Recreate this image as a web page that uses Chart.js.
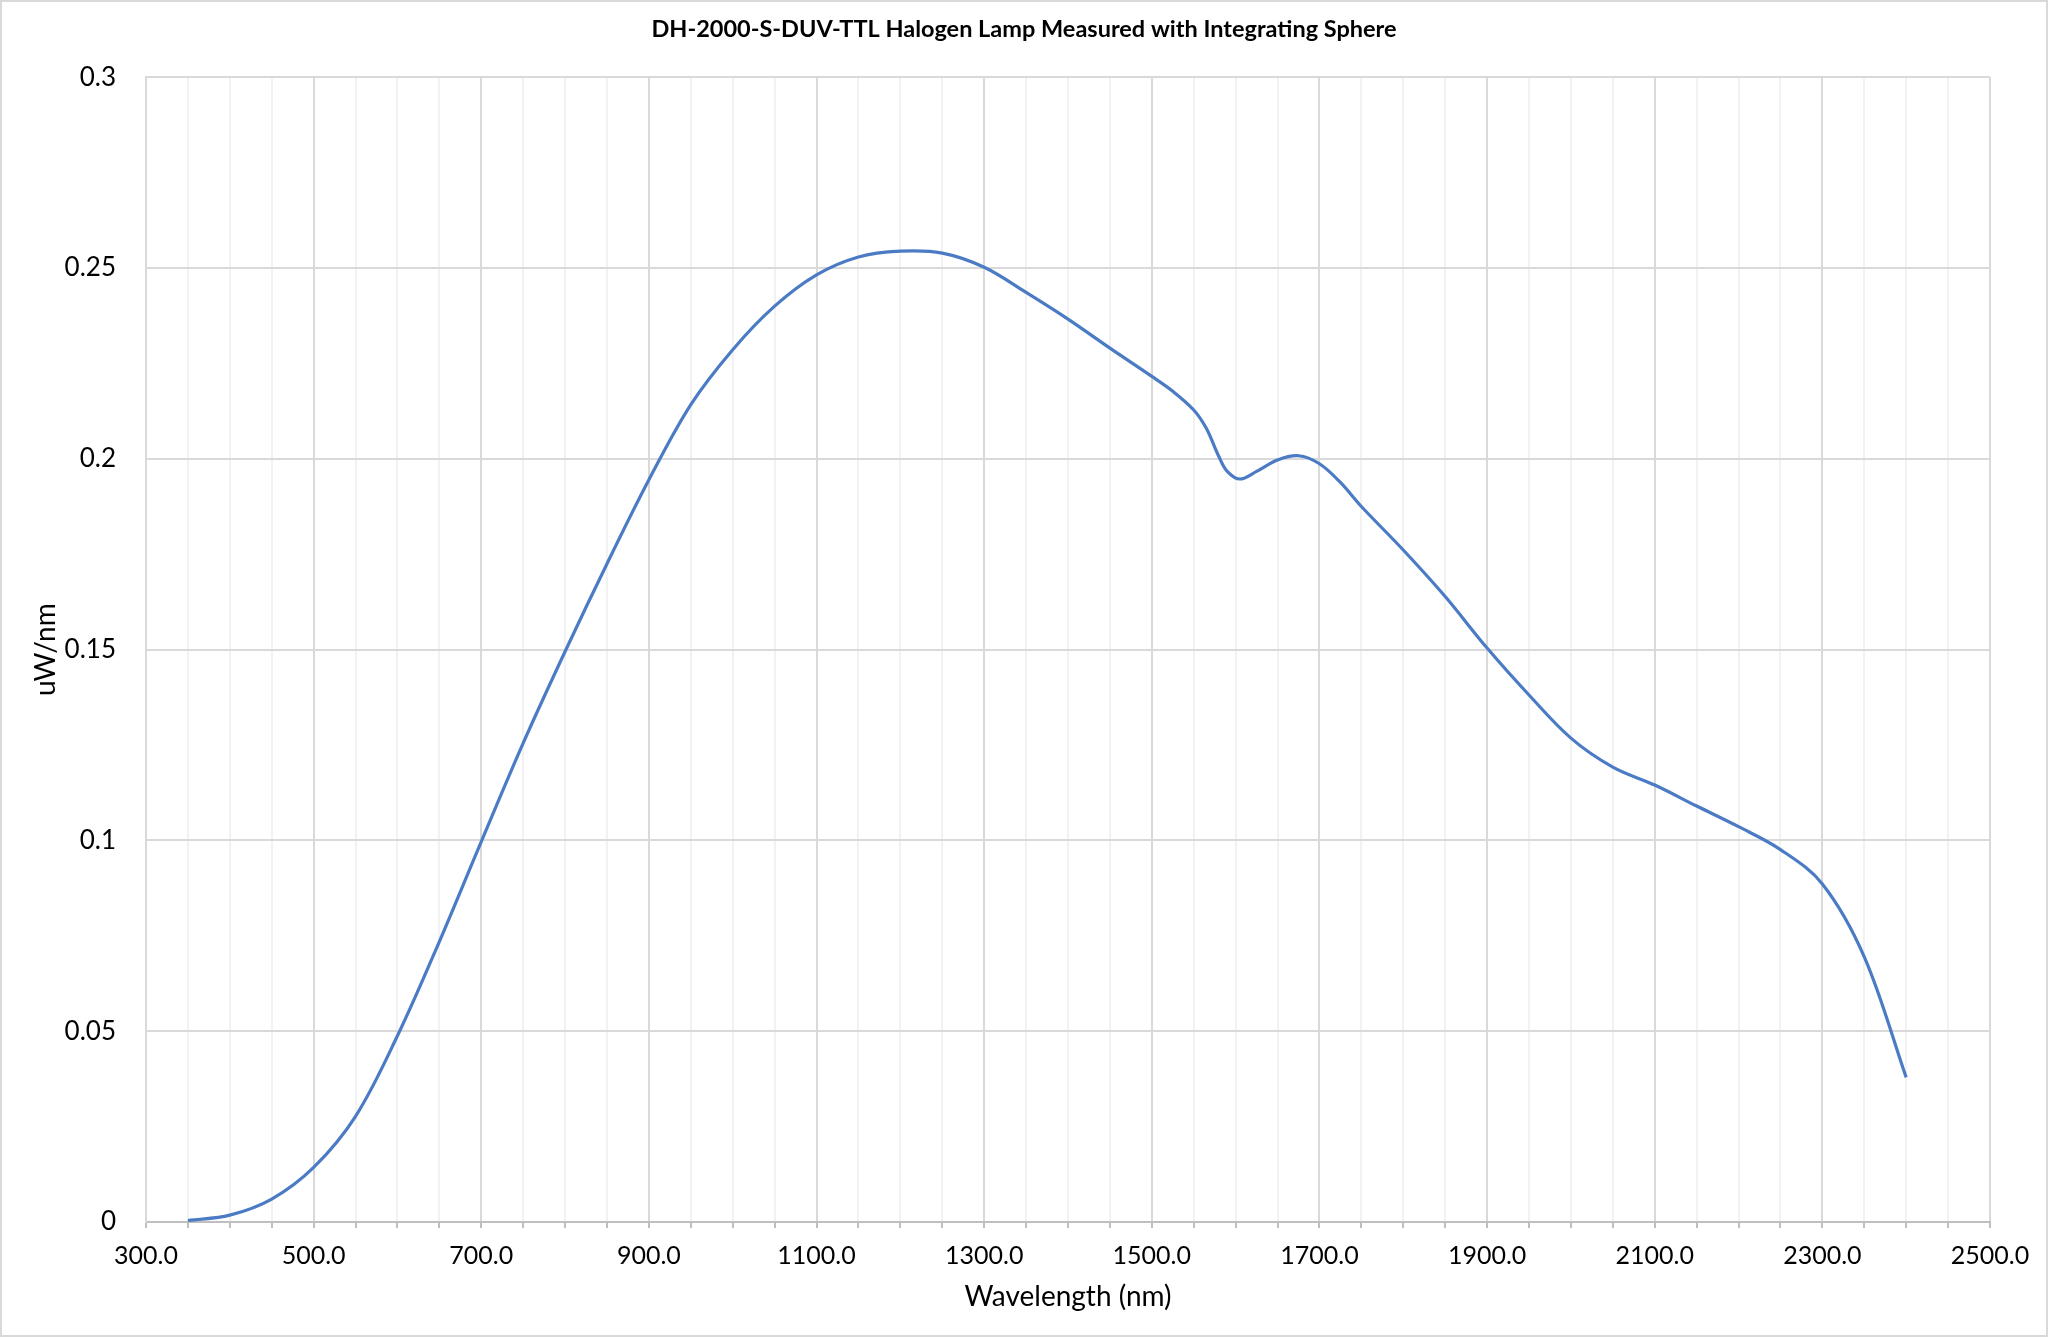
<!DOCTYPE html>
<html>
<head>
<meta charset="utf-8">
<script src="https://cdn.jsdelivr.net/npm/chart.js@4/dist/chart.umd.min.js"></script>
<style>
    html, body { margin: 0; padding: 0; background: #fff; }
    #wrap { width: 2048px; height: 1337px; position: relative; }
</style>
</head>
<body>
<div id="wrap"><canvas id="spectrum"></canvas></div>
<script>
// wavelength (nm) and measured irradiance (uW/nm)
const wavelengths = [350, 400, 450, 500, 550, 600, 650, 700, 750, 800, 850, 900, 950,
    1000, 1050, 1100, 1150, 1200, 1250, 1300, 1350, 1400, 1450, 1500, 1525, 1550,
    1565, 1580, 1590, 1605, 1625, 1650, 1675, 1700, 1725, 1750, 1800, 1850, 1900,
    1950, 2000, 2050, 2100, 2150, 2200, 2250, 2300, 2350, 2400];
const irradiance = [0.0004, 0.0018, 0.0060, 0.0143, 0.0277, 0.0488, 0.0735, 0.0997,
    0.1255, 0.1495, 0.1725, 0.1945, 0.2142, 0.2286, 0.2400, 0.2482, 0.2529, 0.2544,
    0.2539, 0.2502, 0.2436, 0.2366, 0.2290, 0.2216, 0.2177, 0.2128, 0.2080, 0.2006,
    0.1967, 0.1947, 0.1967, 0.1997, 0.2008, 0.1987, 0.1938, 0.1875, 0.1761, 0.1639,
    0.1504, 0.1381, 0.1268, 0.1192, 0.1145, 0.1090, 0.1036, 0.0976, 0.0886, 0.0695,
    0.0379];

const FONT = 'Lato, "Open Sans", sans-serif';
const MAJOR = '#d9d9d9', MINOR = '#f2f2f2';

// thin grey frame round the whole chart, like the Excel chart area
const frame = {
    id: 'frame',
    afterDraw(chart) {
        const ctx = chart.ctx;
        ctx.save();
        ctx.strokeStyle = '#d9d9d9';
        ctx.lineWidth = 2;
        ctx.strokeRect(1, 1, chart.width - 2, chart.height - 2);
        ctx.restore();
    }
};

new Chart(document.getElementById('spectrum'), {
    type: 'line',
    data: {
        datasets: [{
            data: wavelengths.map((x, i) => ({ x, y: irradiance[i] })),
            borderColor: '#4a7bc4',
            borderWidth: 3.2,
            pointRadius: 0,
            tension: 0.35,
            fill: false
        }]
    },
    options: {
        responsive: true,
        maintainAspectRatio: false,
        animation: false,
        layout: { padding: 0 },
        plugins: {
            legend: { display: false },
            tooltip: { enabled: false },
            title: {
                display: true,
                text: 'DH-2000-S-DUV-TTL Halogen Lamp Measured with Integrating Sphere',
                color: '#000',
                font: { family: FONT, size: 23.5, weight: 'bold' },
                padding: { top: 15, bottom: 34 }
            }
        },
        scales: {
            x: {
                type: 'linear',
                min: 300,
                max: 2500,
                afterFit: s => { s.height = 115; },
                border: { color: '#bfbfbf', width: 2 },
                grid: {
                    color: c => ((c.tick.value - 300) % 200 === 0 ? MAJOR : MINOR),
                    lineWidth: 2,
                    tickColor: '#bfbfbf',
                    tickLength: 6
                },
                ticks: {
                    stepSize: 50,
                    maxTicksLimit: 100,
                    autoSkip: false,
                    maxRotation: 0,
                    padding: 13,
                    color: '#000',
                    font: { family: FONT, size: 25 },
                    callback: v => ((v - 300) % 200 === 0 ? v.toFixed(1) : '')
                },
                title: {
                    display: true,
                    text: 'Wavelength (nm)',
                    color: '#000',
                    font: { family: FONT, size: 28 },
                    padding: { top: 0, bottom: 23 }
                }
            },
            y: {
                min: 0,
                max: 0.3,
                afterFit: s => { s.width = 146; },
                border: { color: MAJOR, width: 2 },
                grid: { color: MAJOR, lineWidth: 2, drawTicks: false },
                ticks: {
                    stepSize: 0.05,
                    padding: 30,
                    color: '#000',
                    font: { family: FONT, size: 26 },
                    callback: v => String(parseFloat(v.toFixed(2)))
                },
                title: {
                    display: true,
                    text: 'uW/nm',
                    color: '#000',
                    font: { family: FONT, size: 28 },
                    padding: { top: 29, bottom: 0 }
                }
            },
            // empty right-hand strip so the title stays centred on the whole canvas
            yRight: {
                position: 'right',
                min: 0,
                max: 0.3,
                afterFit: s => { s.width = 58; },
                border: { display: false },
                grid: { display: false },
                ticks: { display: false }
            }
        }
    },
    plugins: [frame]
});
</script>
</body>
</html>
